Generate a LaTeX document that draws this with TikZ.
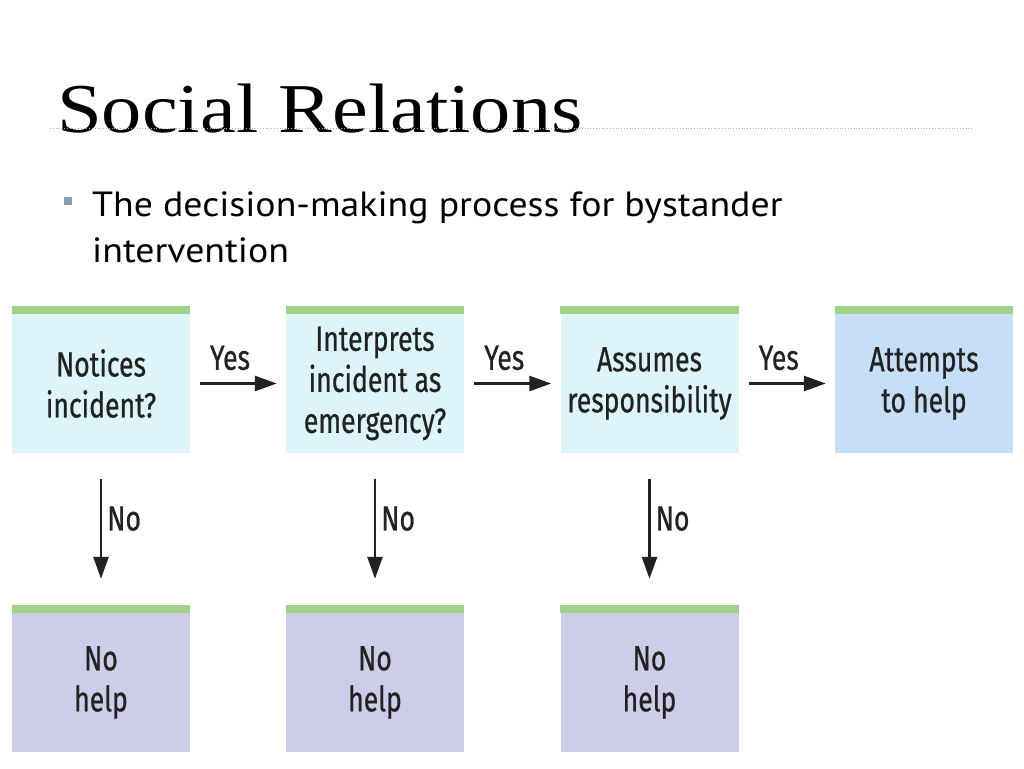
\documentclass[tikz,border=0pt]{standalone}
\usepackage{fontspec}
\setmainfont{Liberation Serif}
\newfontfamily\titlefont[FakeStretch=1.15]{Liberation Serif}
\newfontfamily\bulletfont[FakeStretch=1.08]{PT Sans}
\newfontfamily\boxfont[FakeStretch=0.76,FakeBold=0.6]{Fira Sans}
\usetikzlibrary{arrows.meta}
\definecolor{cyanbox}{HTML}{DDF4FA}
\definecolor{bluebox}{HTML}{C6DEF6}
\definecolor{lavbox}{HTML}{CDCDEA}
\definecolor{greenbar}{HTML}{A0D28C}
\definecolor{txt}{HTML}{222222}
\definecolor{bulletc}{HTML}{8A9AB5}
\tikzset{
  stagebox/.style={rectangle, minimum width=178pt, minimum height=139pt, inner sep=0pt,
    align=center, font=\boxfont\fontsize{35}{41}\selectfont, text=txt},
  arr/.style={line width=2.6pt, draw=txt, -{Triangle[length=22pt,width=15pt]}},
  lbl/.style={font=\boxfont\fontsize{35}{36}\selectfont, text=txt, inner sep=0pt},
}
\begin{document}
\begin{tikzpicture}[x=1pt,y=-1pt]
\useasboundingbox (0,0) rectangle (1024,768);
\fill[white] (0,0) rectangle (1024,768);
% title
\node[anchor=base west, inner sep=0pt, font=\titlefont\fontsize{70}{70}\selectfont, text=black] (title) at (57,132) {Social Relations};
\draw[gray!60, dotted, line width=0.8pt] (50,128) -- (972,128);
% bullet
\fill[bulletc] (64,197) rectangle (72,205);
\node[anchor=base west, inner sep=0pt, align=left, font=\bulletfont\fontsize{35}{46}\selectfont, text=black] (bul) at (92,262) {The decision-making process for bystander\\intervention};
% boxes
\node[stagebox, fill=cyanbox] (n1) at (101,383.5) {Notices\\incident?};
\node[stagebox, fill=cyanbox] (n2) at (375,383.5) {Interprets\\incident as\\emergency?};
\node[stagebox, fill=cyanbox] (n3) at (649.5,383.5) {Assumes\\responsibility};
\node[stagebox, fill=bluebox] (n4) at (924,383.5) {Attempts\\to help};
\node[stagebox, fill=lavbox] (h1) at (101,682.5) {No\\help};
\node[stagebox, fill=lavbox] (h2) at (375,682.5) {No\\help};
\node[stagebox, fill=lavbox] (h3) at (649.5,682.5) {No\\help};
\foreach \n in {n1,n2,n3,n4,h1,h2,h3}{
  \fill[greenbar] ([yshift=8pt]\n.north west) rectangle (\n.north east);
}
% yes arrows
\draw[arr, shorten <=10pt, shorten >=9pt] (n1) -- node[lbl, above=12pt, xshift=-8pt] {Yes} (n2);
\draw[arr, shorten <=10pt, shorten >=9pt] (n2) -- node[lbl, above=12pt, xshift=-8pt] {Yes} (n3);
\draw[arr, shorten <=10pt, shorten >=9pt] (n3) -- node[lbl, above=12pt, xshift=-8pt] {Yes} (n4);
% no arrows
\draw[arr, shorten <=26pt, shorten >=34pt] (n1) -- node[lbl, pos=0.41, right=5pt] {No} (h1);
\draw[arr, shorten <=26pt, shorten >=34pt] (n2) -- node[lbl, pos=0.41, right=5pt] {No} (h2);
\draw[arr, shorten <=26pt, shorten >=34pt] (n3) -- node[lbl, pos=0.41, right=5pt] {No} (h3);
\end{tikzpicture}
\end{document}
